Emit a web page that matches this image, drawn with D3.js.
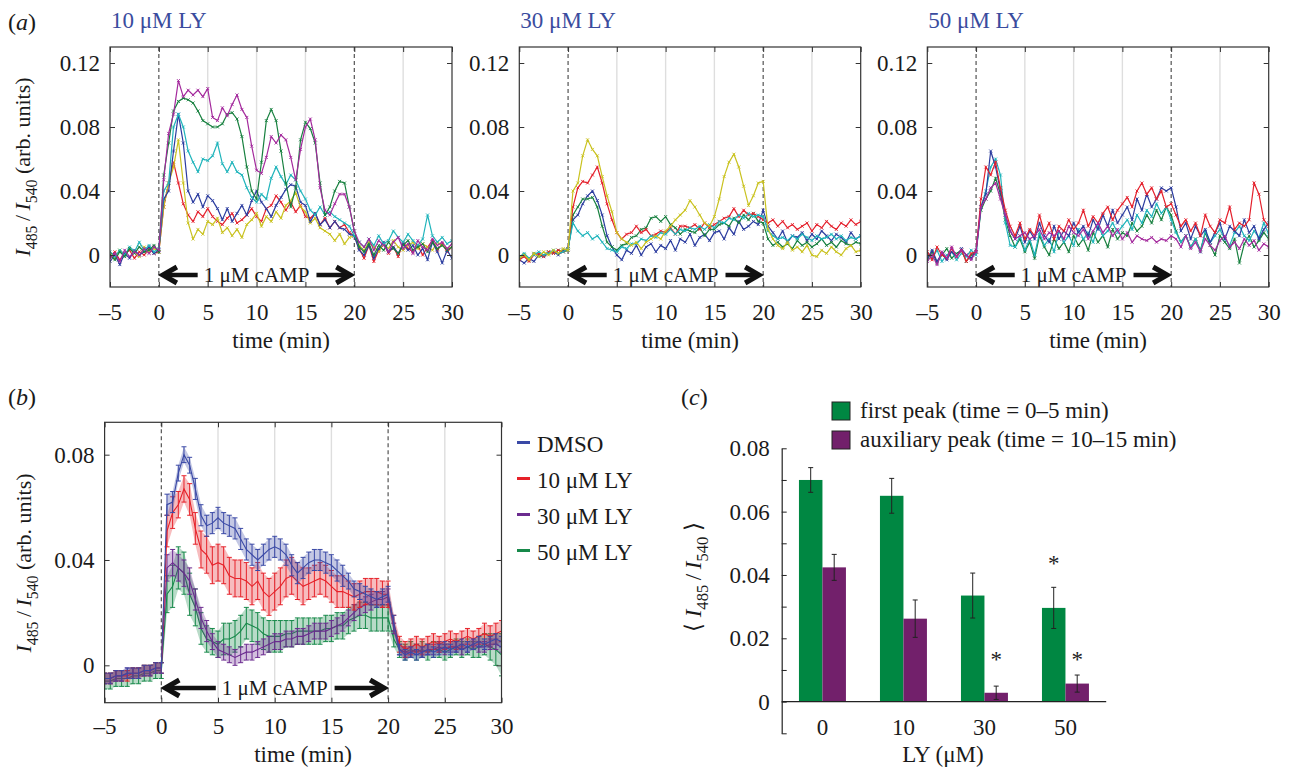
<!DOCTYPE html>
<html><head><meta charset="utf-8">
<script src="https://cdn.jsdelivr.net/npm/d3@7"></script>
<style>body{margin:0;background:#fff}svg{display:block}</style>
</head><body><script>
// ---------- DATA (ratio values in units of 1e-3) ----------
const times = d3.range(-5, 30.001, 0.5); // sample times (min)
const gridTimes = [5, 10, 15, 25];
const stimTimes = [0, 20];
const xTickVals = [-5, 0, 5, 10, 15, 20, 25, 30];
const aYTicks = [0, 0.04, 0.08, 0.12];
const bYTicks = [0, 0.04, 0.08];
const cYTicks = [-0.01, 0, 0.01, 0.02, 0.03, 0.04, 0.05, 0.06, 0.07, 0.08];

// panel (a) 10 uM LY
const a1Blue = [-4,0,-6,1,-2,3,0,2,5,1,3,
 35,40,65,88,70, 40,33,38,30,37, 34,29,22,29,21, 26,31,25,34,40, 33,29,24,31,36, 41,44,43,33,31, 21,26,19,22,17, 21,17,16,13,12,
 3,0,6,-2,4, 8,2,5,1,7, 3,6,0,4,-3, 8,2,-5,3,-2];
const a1Red = [-1,2,-3,1,3,-2,2,0,4,1,2,
 30,45,58,45,32, 25,21,27,24,29, 24,21,19,23,26, 20,22,25,29,24, 21,29,31,37,33, 28,33,27,31,24, 23,26,19,23,17, 21,17,19,14,12,
 4,-2,6,-4,3, 7,1,5,-1,8, 4,2,6,0,5, 9,3,7,2,5];
const a1Magenta = [-2,1,-4,3,-1,2,0,4,1,5,3,
 47,76,88,109,99, 103,100,103,99,104, 86,84,92,87,94, 100,91,86,68,53, 51,61,74,70,75, 72,61,47,66,80, 85,72,42,28,25, 32,38,38,30,15,
 8,5,10,3,9, 6,2,8,11,4, 7,1,9,5,3, 10,6,8,4,7];
const a1Green = [0,-3,2,-1,4,1,5,2,3,6,2,
 50,70,90,96,98, 97,95,90,84,82, 80,80,82,88,89, 85,74,55,40,35, 58,84,91,84,65, 45,30,42,72,83, 79,70,45,25,30, 40,46,45,30,15,
 5,2,7,0,6, 3,8,4,1,6, 9,3,5,7,2, 8,4,6,3,5];
const a1Cyan = [2,-1,3,0,5,2,8,3,6,2,4,
 40,45,80,88,80, 65,58,52,60,59, 62,70,57,52,58, 52,50,42,36,33, 38,35,48,55,49, 44,50,47,40,35, 28,25,30,25,27, 24,22,20,18,12,
 8,5,10,6,12, 7,9,15,11,8, 13,9,6,10,25, 12,8,11,7,9];
const a1Yellow = [1,-2,3,0,4,2,-1,5,2,4,2,
 30,45,55,72,45, 20,10,16,13,21, 19,23,14,17,12, 16,11,19,22,26, 18,24,21,27,23, 31,34,39,30,27, 20,23,17,15,13, 9,13,7,11,12,
 6,3,8,5,2, 7,4,9,5,3, 6,8,4,7,5, 3,8,6,4,5];

// panel (a) 30 uM LY
const a2Yellow = [-2,0,-3,1,-1,2,0,3,1,4,3,
 40,45,62,72,66, 62,49,37,27,14, 10,8,6,8,4, 8,10,12,10,15, 18,22,25,28,34, 30,25,20,18,24, 35,49,58,63,55, 43,31,37,45,46,
 16,10,6,4,8, 3,5,2,6,0, -1,3,1,5,2, 0,4,6,2,3];
const a2Red = [-3,-1,-4,0,1,-1,2,1,3,2,4,
 30,42,46,45,50, 55,45,32,22,14, 10,13,14,18,14, 16,12,13,15,14, 17,13,18,18,17, 19,16,20,17,19, 21,23,24,29,24, 28,25,26,24,22,
 20,22,18,21,17, 19,16,18,20,15, 19,17,21,18,16, 20,18,22,19,21];
const a2Blue = [-3,-5,-2,-4,0,-1,1,2,0,3,4,
 22,25,32,37,40, 34,25,12,5,0, -3,3,1,6,0, 5,7,2,6,4, 9,3,10,8,13, 6,11,13,9,14, 15,10,17,13,21, 16,18,21,19,28,
 18,14,10,15,8, 12,11,14,9,13, 10,15,12,9,13, 11,8,14,10,12];
const a2Green = [-2,0,-3,1,-1,0,2,1,3,2,3,
 25,30,35,35,36, 30,18,8,5,3, 6,7,11,12,16, 17,23,24,21,24, 19,17,13,16,15, 14,17,12,16,16, 19,20,18,23,20, 25,22,26,21,20,
 10,6,8,5,7, 4,9,6,8,5, 7,10,6,8,5, 9,7,6,8,7];
const a2Cyan = [-1,1,-2,0,2,0,1,3,1,2,4,
 20,15,12,14,10, 12,8,4,3,2, 5,4,7,7,10, 9,12,11,14,13, 16,13,16,15,17, 16,18,16,19,17, 21,20,23,22,25, 23,26,24,25,24,
 15,12,10,11,9, 12,10,13,11,9, 12,10,11,13,10, 12,9,11,10,12];

// panel (a) 50 uM LY
const a3Blue = [-2,3,-4,1,-3,2,-1,4,0,-2,3,
 30,38,65,55,40, 25,15,10,18,8, 15,10,20,12,8, 18,10,15,12,20, 14,18,12,22,16, 25,18,28,20,25, 30,22,35,28,38, 30,35,42,40,42,
 30,15,20,10,18, 12,16,8,14,20, 10,18,15,12,22, 14,18,10,16,20];
const a3Red = [2,-3,5,0,-2,4,-1,3,-4,1,2,
 35,55,50,58,42, 28,18,12,20,10, 16,12,25,14,20, 10,18,15,22,16, 20,28,18,24,20, 26,30,22,28,32, 36,30,40,45,38, 42,35,40,30,32,
 25,18,22,15,20, 12,25,18,14,22, 20,30,16,20,18, 22,45,38,22,18];
const a3Green = [-3,2,-5,0,4,-2,1,3,-4,0,2,
 28,35,40,48,38, 22,12,5,10,2, 8,-2,12,5,0, 10,4,8,2,12, 6,10,3,14,8, 12,5,16,10,14, 12,20,15,18,25, 20,28,22,30,25,
 15,8,12,5,10, 3,14,6,0,12, 8,4,10,-5,7, 12,5,9,14,10];
const a3Cyan = [1,-2,3,-4,0,2,-3,1,-1,3,0,
 30,40,55,60,50, 20,6,5,12,3, 10,0,14,6,10, 2,15,8,12,6, 16,10,14,8,18, 12,15,20,14,18, 22,16,25,20,28, 24,32,26,30,22,
 14,8,12,5,10, 2,15,8,12,16, 10,6,14,18,12, 9,15,11,20,13];
const a3Magenta = [-4,0,-6,2,-2,5,-1,3,0,-3,2,
 30,35,42,45,35, 25,15,10,12,14, 10,12,16,10,14, 12,15,10,18,14, 12,16,10,15,20, 14,18,12,16,10, 14,8,12,10,9, 11,8,10,9,12,
 10,5,12,4,8, 2,10,6,3,9, 12,5,8,4,10, 6,9,3,7,5];

// panel (b) mean and s.e.m.
const bDMSO = [-5,-5,-4,-4,-3,-3,-3,-2,-2,-1,-1,
 61,62,73,80,76, 67,57,53,54,56, 54,53,52,48,44, 42,40,42,44,45, 44,42,38,35,37, 39,40,40,39,38, 36,34,32,29,28, 27,26,25,26,27,
 16,6,4,5,4, 5,6,5,6,7, 6,7,8,7,8, 9,8,9,10,9];
const bDMSOerr = [2,2,2,2,2,2,2,2,2,2,2,
 4,4,3,3,3, 4,4,4,4,4, 4,4,4,4,4, 4,4,4,4,4, 4,4,4,4,4, 4,4,4,4,4, 4,4,3,3,3, 3,3,3,3,3,
 3,2,2,2,2, 2,2,2,2,2, 2,2,2,2,2, 2,2,2,2,2];
const bLY10 = [-5,-5,-4,-4,-4,-3,-3,-2,-2,-1,-1,
 51,58,61,67,63, 52,44,42,38,39, 38,34,33,33,32, 30,32,28,26,28, 30,33,34,32,30, 31,32,33,32,30, 28,28,27,26,27, 28,28,28,27,27,
 16,8,6,7,8, 7,8,9,8,9, 10,9,10,11,10, 11,12,11,12,13];
const bLY10err = [2,2,2,2,2,2,2,2,2,2,2,
 6,6,5,5,6, 6,7,7,7,7, 7,7,7,7,7, 7,7,7,7,7, 7,7,7,7,7, 6,6,6,6,6, 6,6,5,5,5, 5,5,5,5,5,
 3,3,3,3,3, 3,3,3,3,3, 3,3,3,3,3, 3,4,4,4,4];
const bLY30 = [-5,-5,-4,-4,-3,-3,-3,-2,-2,-1,-1,
 37,39,37,35,32, 25,18,13,9,6, 5,4,3,4,5, 5,6,7,8,9, 9,10,10,11,11, 12,13,13,13,14, 15,16,18,20,22, 23,24,25,25,26,
 14,6,5,5,6, 5,6,6,7,6, 7,7,6,7,8, 7,7,8,8,7];
const bLY30err = [2,2,2,2,2,2,2,2,2,2,2,
 5,5,5,5,5, 4,4,4,3,3, 3,3,3,3,3, 3,3,3,3,3, 3,3,3,3,3, 3,3,3,3,3, 3,3,3,3,3, 3,3,3,3,3,
 2,2,2,2,2, 2,2,2,2,2, 2,2,2,2,2, 2,2,2,2,2];
const bLY50 = [-6,-6,-5,-5,-5,-4,-4,-3,-3,-2,-2,
 27,30,37,35,27, 22,14,10,9,8, 10,10,11,13,16, 15,14,12,11,11, 11,12,12,13,13, 13,13,13,14,14, 15,15,17,18,19, 19,18,18,18,18,
 10,6,5,6,5, 6,5,6,6,5, 6,7,6,7,6, 7,8,7,6,4];
const bLY50err = [3,3,3,3,3,3,3,3,3,3,3,
 7,8,8,8,8, 7,6,5,5,5, 6,6,6,6,6, 6,6,6,6,6, 6,5,5,5,5, 5,5,5,5,5, 5,5,5,5,5, 5,5,5,5,5,
 3,3,3,3,3, 3,3,3,3,3, 3,3,3,3,3, 4,4,5,6,8];
const bLegendLabels = ['DMSO', '10 μM LY', '30 μM LY', '50 μM LY'];

// panel (c)
const cCategories = ['0', '10', '30', '50'];
const cFirstPeak = [0.0700, 0.0650, 0.0335, 0.0296];
const cFirstErr = [0.0039, 0.0055, 0.0071, 0.0065];
const cAuxPeak = [0.0424, 0.0262, 0.0028, 0.0057];
const cAuxErr = [0.0041, 0.0059, 0.0021, 0.0027];
const cLegendLabels = ['first peak (time = 0–5 min)', 'auxiliary peak (time = 10–15 min)'];
const cStars = [{cat:'30', series:1, level:0.0144}, {cat:'50', series:0, level:0.0448}, {cat:'50', series:1, level:0.0144}];

// ---------- STYLE ----------
const FONT = '"Liberation Serif","Times New Roman",Times,serif';
const TXT = '#1a1a1a';
const C = {blue:'#2b3c9f', red:'#e4202c', magenta:'#a42a9d', green:'#17803f', cyan:'#1fb4bb', yellow:'#c9c21f'};
const BC = {dmso:'#3a49a6', ly10:'#e62129', ly30:'#6b2b8f', ly50:'#17894a'};
const barGreen = '#008742', barPurple = '#72206b';

const svg = d3.select('body').append('svg').attr('width', 1290).attr('height', 771)
  .attr('font-family', FONT).style('font-family', FONT);

function txt(g, x, y, s, size, anchor) {
  return g.append('text').attr('x', x).attr('y', y).attr('font-size', size)
    .attr('text-anchor', anchor || 'start').attr('fill', TXT).text(s);
}
function panelLetter(x, y, letter) {
  const t = svg.append('text').attr('x', x).attr('y', y).attr('font-size', 24).attr('fill', TXT);
  t.append('tspan').text('(');
  t.append('tspan').attr('font-style', 'italic').text(letter);
  t.append('tspan').text(')');
}
function ratioLabel(x, y, fs, brackets, suffix) {
  const t = svg.append('text').attr('transform', `translate(${x},${y}) rotate(-90)`)
    .attr('text-anchor', 'middle').attr('font-size', fs).attr('fill', TXT);
  if (brackets) t.append('tspan').text('\u27E8 ');
  t.append('tspan').attr('font-style', 'italic').text('I');
  t.append('tspan').attr('font-size', fs * 0.72).attr('dy', fs * 0.3).text('485');
  t.append('tspan').attr('dy', -fs * 0.3).text('\u2009/\u2009');
  t.append('tspan').attr('font-style', 'italic').text('I');
  t.append('tspan').attr('font-size', fs * 0.72).attr('dy', fs * 0.3).text('540');
  t.append('tspan').attr('dy', -fs * 0.3).text(brackets ? ' \u27E9' : suffix);
}
const fmtT = d => d < 0 ? '\u2013' + (-d) : String(d);
const fmtY = d => d === 0 ? '0' : d3.format('.2f')(d);

function styleAxis(a, fs) {
  a.attr('font-family', FONT).attr('font-size', fs);
  a.select('.domain').remove();
  a.selectAll('line').attr('stroke', '#333');
  a.selectAll('text').attr('fill', TXT);
}

function timeFrame(g, x, y, yTicks, opts) {
  const [x0, x1] = x.range();
  const [yb, yt] = y.range();
  g.append('g').selectAll('line').data(gridTimes).join('line')
    .attr('x1', d => x(d)).attr('x2', d => x(d)).attr('y1', yt).attr('y2', yb)
    .attr('stroke', '#dedede').attr('stroke-width', 1.4);
  g.append('g').selectAll('line').data(stimTimes).join('line')
    .attr('x1', d => x(d)).attr('x2', d => x(d)).attr('y1', yt).attr('y2', yb)
    .attr('stroke', '#444').attr('stroke-width', 1.1).attr('stroke-dasharray', '4,3');
  const ya = opts.arrowY;
  const lab = g.append('text').attr('x', x(10)).attr('y', ya).attr('dy', '0.34em')
    .attr('text-anchor', 'middle').attr('font-size', 21).attr('fill', TXT).text('1 μM cAMP');
  const w = lab.node().getComputedTextLength();
  const L0 = x(stimTimes[0]) + 3, L1 = x(10) - w / 2 - 6, R0 = x(10) + w / 2 + 7, R1 = x(stimTimes[1]) - 3;
  const ag = g.append('g').attr('stroke', '#111').attr('fill', 'none');
  ag.append('line').attr('x1', L0 + 4).attr('x2', L1).attr('y1', ya).attr('y2', ya).attr('stroke-width', 4.5);
  ag.append('line').attr('x1', R0).attr('x2', R1 - 4).attr('y1', ya).attr('y2', ya).attr('stroke-width', 4.5);
  ag.append('path').attr('d', `M${L0 + 15},${ya - 8}L${L0 + 1},${ya}L${L0 + 15},${ya + 8}`).attr('stroke-width', 5).attr('stroke-linejoin', 'miter');
  ag.append('path').attr('d', `M${R1 - 15},${ya - 8}L${R1 - 1},${ya}L${R1 - 15},${ya + 8}`).attr('stroke-width', 5).attr('stroke-linejoin', 'miter');
}
function timeAxes(g, x, y, yTicks, opts) {
  const [x0, x1] = x.range();
  const [yb, yt] = y.range();
  g.append('rect').attr('x', x0).attr('y', yt).attr('width', x1 - x0).attr('height', yb - yt)
    .attr('fill', 'none').attr('stroke', '#333').attr('stroke-width', 1.2);
  const fs = opts.fs;
  styleAxis(g.append('g').attr('transform', `translate(0,${yb})`)
    .call(d3.axisBottom(x).tickValues(xTickVals).tickSize(-5).tickSizeOuter(0).tickPadding(opts.padX).tickFormat(fmtT)), fs);
  styleAxis(g.append('g').attr('transform', `translate(0,${yt})`)
    .call(d3.axisTop(x).tickValues(xTickVals).tickSize(-5).tickSizeOuter(0).tickFormat('')), fs);
  styleAxis(g.append('g').attr('transform', `translate(${x0},0)`)
    .call(d3.axisLeft(y).tickValues(yTicks).tickSize(-5).tickSizeOuter(0).tickPadding(opts.padY).tickFormat(fmtY)), fs);
  styleAxis(g.append('g').attr('transform', `translate(${x1},0)`)
    .call(d3.axisRight(y).tickValues(yTicks).tickSize(-5).tickSizeOuter(0).tickFormat('')), fs);
  txt(g, (x0 + x1) / 2, opts.xLabelY, 'time (min)', fs, 'middle');
}

// ---------- PANEL (a) ----------
panelLetter(8, 30, 'a');
const panelsA = [
  {x0: 110, x1: 452, id: 'a1', title: '10 μM LY',
   series: [[C.red, a1Red], [C.yellow, a1Yellow], [C.blue, a1Blue], [C.cyan, a1Cyan], [C.green, a1Green], [C.magenta, a1Magenta]]},
  {x0: 519.3, x1: 860.7, id: 'a2', title: '30 μM LY',
   series: [[C.blue, a2Blue], [C.green, a2Green], [C.red, a2Red], [C.cyan, a2Cyan], [C.yellow, a2Yellow]]},
  {x0: 927.3, x1: 1268.7, id: 'a3', title: '50 μM LY',
   series: [[C.green, a3Green], [C.cyan, a3Cyan], [C.blue, a3Blue], [C.red, a3Red], [C.magenta, a3Magenta]]}
];
panelsA.forEach(p => {
  const g = svg.append('g');
  const x = d3.scaleLinear().domain([-5, 30]).range([p.x0, p.x1]);
  const y = d3.scaleLinear().domain([-0.02, 0.13]).range([287, 47]);
  svg.append('clipPath').attr('id', 'clip' + p.id).append('rect')
    .attr('x', p.x0).attr('y', 47).attr('width', p.x1 - p.x0).attr('height', 240);
  g.append('text').attr('x', p.x0 + 1).attr('y', 27.5).attr('font-size', 23).attr('fill', '#3a4c9e').text(p.title);
  timeFrame(g, x, y, aYTicks, {arrowY: 275});
  const tg = g.append('g').attr('clip-path', `url(#clip${p.id})`);
  const line = d3.line().x(d => x(d.t)).y(d => y(d.v / 1000));
  p.series.forEach(([col, arr]) => {
    const pts = arr.map((v, i) => ({t: times[i], v}));
    tg.append('path').datum(pts).attr('d', line).attr('fill', 'none').attr('stroke', col).attr('stroke-width', 1.2);
    tg.append('g').selectAll('path').data(pts).join('path')
      .attr('d', d => { const px = x(d.t), py = y(d.v / 1000); return `M${px - 1.5},${py - 1.5}l3,3m0,-3l-3,3`; })
      .attr('stroke', col).attr('stroke-width', 0.9).attr('fill', 'none');
  });
  timeAxes(g, x, y, aYTicks, {fs: 23, padX: 16.5, padY: 10, xLabelY: 348});
});
ratioLabel(30, 167, 22, false, ' (arb. units)');

// ---------- PANEL (b) ----------
panelLetter(8, 405, 'b');
{
  const g = svg.append('g');
  const x = d3.scaleLinear().domain([-5, 30]).range([104.6, 501.5]);
  const y = d3.scaleLinear().domain([-0.0142, 0.0923]).range([702.7, 422.3]);
  svg.append('clipPath').attr('id', 'clipb').append('rect')
    .attr('x', 104.6).attr('y', 422.3).attr('width', 501.5 - 104.6).attr('height', 702.7 - 422.3);
  timeFrame(g, x, y, bYTicks, {arrowY: 688});
  const tg = g.append('g').attr('clip-path', 'url(#clipb)');
  const bSeries = [[BC.ly50, bLY50, bLY50err], [BC.ly30, bLY30, bLY30err], [BC.ly10, bLY10, bLY10err], [BC.dmso, bDMSO, bDMSOerr]];
  bSeries.forEach(([col, m, e]) => {
    const pts = m.map((v, i) => ({t: times[i], v: v / 1000, e: e[i] / 1000}));
    tg.append('path').datum(pts)
      .attr('d', d3.area().x(d => x(d.t)).y0(d => y(d.v - d.e)).y1(d => y(d.v + d.e)))
      .attr('fill', col).attr('fill-opacity', 0.3);
    const eb = tg.append('g').attr('stroke', col).attr('stroke-width', 1);
    eb.selectAll('path').data(pts).join('path')
      .attr('d', d => { const px = x(d.t), a = y(d.v - d.e), b = y(d.v + d.e);
        return `M${px},${a}V${b}M${px - 2.5},${a}h5M${px - 2.5},${b}h5`; });
    tg.append('path').datum(pts).attr('d', d3.line().x(d => x(d.t)).y(d => y(d.v)))
      .attr('fill', 'none').attr('stroke', col).attr('stroke-width', 1.1);
  });
  timeAxes(g, x, y, bYTicks, {fs: 23, padX: 15, padY: 10, xLabelY: 762});
  const legCols = [BC.dmso, BC.ly10, BC.ly30, BC.ly50];
  const lg = svg.append('g');
  bLegendLabels.forEach((s, i) => {
    const yy = 442.5 + i * 36;
    lg.append('line').attr('x1', 517).attr('x2', 530).attr('y1', yy).attr('y2', yy)
      .attr('stroke', legCols[i]).attr('stroke-width', 3);
    txt(lg, 537, yy + 9, s, 23);
  });
}
ratioLabel(31, 563, 22, false, ' (arb. units)');

// ---------- PANEL (c) ----------
panelLetter(681, 405, 'c');
{
  const g = svg.append('g');
  const x = d3.scaleBand().domain(cCategories).range([781.7, 1106.2]).paddingInner(0.42).paddingOuter(0.213);
  const y = d3.scaleLinear().domain([-0.01, 0.08]).range([733.3, 448.3]);
  const bw = x.bandwidth() / 2;
  const series = [[cFirstPeak, cFirstErr, barGreen], [cAuxPeak, cAuxErr, barPurple]];
  series.forEach(([vals, errs, col], si) => {
    const rows = cCategories.map((c, i) => ({c, v: vals[i], e: errs[i]}));
    g.append('g').selectAll('rect').data(rows).join('rect')
      .attr('x', d => x(d.c) + si * bw).attr('width', bw)
      .attr('y', d => y(d.v)).attr('height', d => y(0) - y(d.v))
      .attr('fill', col);
    g.append('g').selectAll('path').data(rows).join('path')
      .attr('d', d => { const cx = x(d.c) + si * bw + bw / 2, a = y(d.v - d.e), b = y(d.v + d.e);
        return `M${cx},${a}V${b}M${cx - 2.5},${a}h5M${cx - 2.5},${b}h5`; })
      .attr('stroke', '#222').attr('stroke-width', 1).attr('fill', 'none');
  });
  g.append('g').selectAll('text').data(cStars).join('text')
    .attr('x', d => x(d.cat) + d.series * bw + bw / 2).attr('y', d => y(d.level) + 11)
    .attr('text-anchor', 'middle').attr('font-size', 23).attr('fill', '#222').text('*');
  g.append('line').attr('x1', 781.7).attr('x2', 1106.2).attr('y1', y(0)).attr('y2', y(0))
    .attr('stroke', '#222').attr('stroke-width', 1.2);
  const ya = g.append('g').attr('transform', 'translate(781.7,0)')
    .call(d3.axisLeft(y).tickValues(cYTicks).tickSize(-5).tickSizeOuter(0).tickPadding(12)
      .tickFormat(d => (d >= 0 && Math.round(d * 100) % 2 === 0) ? fmtY(Math.round(d * 100) / 100) : ''));
  ya.attr('font-family', FONT).attr('font-size', 23);
  ya.select('.domain').attr('stroke', '#222').attr('stroke-width', 1.2);
  ya.selectAll('line').attr('stroke', '#222');
  ya.selectAll('text').attr('fill', TXT);
  cCategories.forEach(c => txt(g, x(c) + x.bandwidth() / 2, 735, c, 23, 'middle'));
  txt(g, 943, 762, 'LY (μM)', 23, 'middle');
  [barGreen, barPurple].forEach((col, i) => {
    const yy = 402 + i * 29;
    g.append('rect').attr('x', 832).attr('y', yy).attr('width', 18).attr('height', 18)
      .attr('fill', col).attr('stroke', '#222').attr('stroke-width', 1);
    txt(g, 860, yy + 15.5, cLegendLabels[i], 23);
  });
}
ratioLabel(701, 577, 23, true, '');
</script></body></html>
